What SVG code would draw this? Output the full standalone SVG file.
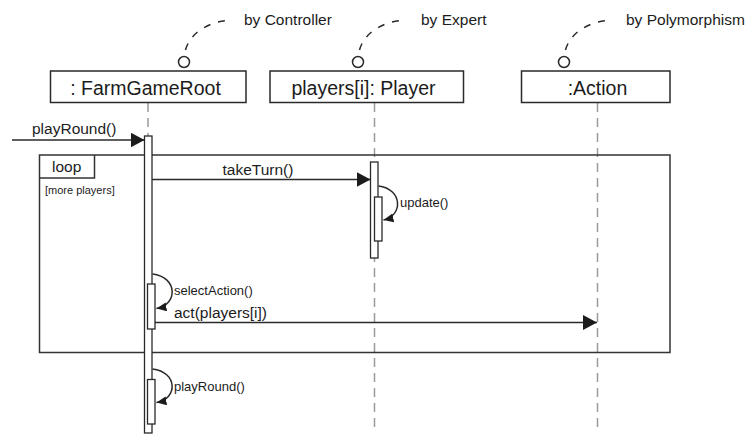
<svg xmlns="http://www.w3.org/2000/svg" width="750" height="438" viewBox="0 0 750 438">
  <style>
    text { font-family: "Liberation Sans", Arial, Helvetica, sans-serif; fill: #1c1c1c; }
    .box { fill: #fff; stroke: #2a2a2a; stroke-width: 1.5; }
    .lbl { font-size: 19.5px; text-anchor: middle; }
    .note { font-size: 15.5px; }
    .msg { font-size: 15.5px; }
    .small { font-size: 13px; }
    .tiny { font-size: 11px; }
    .life { stroke: #9a9a9a; stroke-width: 1.5; stroke-dasharray: 9 6; fill: none; }
    .act { fill: #fff; stroke: #2a2a2a; stroke-width: 1.3; }
    .pat { fill: none; stroke: #2a2a2a; stroke-width: 1.5; stroke-dasharray: 7 8; }
    .ball { fill: #fff; stroke: #2a2a2a; stroke-width: 1.5; }
    .call { fill: none; stroke: #2a2a2a; stroke-width: 1.5; marker-end: url(#big); }
    .self { fill: none; stroke: #2a2a2a; stroke-width: 1.5; marker-end: url(#small); }
    .frame { fill: none; stroke: #333; stroke-width: 1.5; }
  </style>
  <defs>
    <marker id="big" markerUnits="userSpaceOnUse" markerWidth="15" markerHeight="16" refX="14" refY="7.5" orient="auto">
      <path d="M0,0 L14,7.5 L0,15 z" fill="#1c1c1c"/>
    </marker>
    <marker id="small" markerUnits="userSpaceOnUse" markerWidth="11" markerHeight="10" refX="10" refY="4.5" orient="auto">
      <path d="M0,0 L10,4.5 L0,9 z" fill="#1c1c1c"/>
    </marker>
  </defs>

  <rect width="750" height="438" fill="#fff"/>

  <!-- lifelines -->
  <g id="lifelines">
    <line class="life" x1="148" y1="103" x2="148" y2="136"/>
    <line class="life" x1="374.5" y1="103" x2="374.5" y2="428"/>
    <line class="life" x1="597.5" y1="103" x2="597.5" y2="428"/>
  </g>

  <!-- combined fragment -->
  <g id="loop">
    <rect class="frame" x="39.5" y="155" width="630.5" height="197.5"/>
    <path class="frame" d="M39.5,178 H94.5 V155"/>
    <text x="52" y="172" class="msg">loop</text>
    <text x="45" y="194" class="tiny">[more players]</text>
  </g>

  <!-- participants -->
  <g id="farmGameRoot">
    <rect class="box" x="50.5" y="71" width="195.5" height="31.5"/>
    <text x="145.5" y="94.5" class="lbl">: FarmGameRoot</text>
    <path class="pat" d="M185.5,50 C189.5,35 205,22 231,20"/>
    <circle class="ball" cx="184" cy="62" r="5.5"/>
    <text x="244" y="25" class="note">by Controller</text>
    <rect class="act" x="144.5" y="136" width="7.5" height="297"/>
  </g>

  <g id="player">
    <rect class="box" x="270" y="71" width="193.5" height="31.5"/>
    <text x="363.5" y="94.5" class="lbl">players[i]: Player</text>
    <path class="pat" d="M359.5,50 C363.5,35 379,22 405,20"/>
    <circle class="ball" cx="358" cy="62" r="5.5"/>
    <text x="421" y="25" class="note">by Expert</text>
    <rect class="act" x="370.5" y="162" width="7.5" height="96"/>
    <rect class="act" x="374.5" y="197" width="7.5" height="44"/>
  </g>

  <g id="action">
    <rect class="box" x="521.5" y="71" width="148.5" height="31.5"/>
    <text x="597.5" y="94.5" class="lbl">:Action</text>
    <path class="pat" d="M565.5,50 C569.5,35 585,22 611,20"/>
    <circle class="ball" cx="564" cy="62" r="5.5"/>
    <text x="626" y="25" class="note">by Polymorphism</text>
  </g>

  <g id="farmGameRootInner">
    <rect class="act" x="147.5" y="284" width="7.5" height="45"/>
    <rect class="act" x="147.5" y="379.5" width="7.5" height="44.5"/>
  </g>

  <!-- messages -->
  <g id="connectors">
    <line class="call" x1="12" y1="140" x2="144.5" y2="140"/>
    <line class="call" x1="152" y1="179.5" x2="370.5" y2="179.5"/>
    <line class="call" x1="155" y1="322.5" x2="597" y2="322.5"/>
    <path class="self" d="M378.5,186 C403,189 403,216 383.5,220"/>
    <path class="self" d="M152.5,274 C178,277 178,305 156.5,308.5"/>
    <path class="self" d="M152.5,369 C178,372 178,399 156.5,402.5"/>
  </g>

  <g id="labels">
    <text x="32" y="134" class="msg">playRound()</text>
    <text x="222.5" y="175" class="msg">takeTurn()</text>
    <text x="400" y="207" class="small">update()</text>
    <text x="174" y="295" class="small">selectAction()</text>
    <text x="174" y="317.5" class="msg">act(players[i])</text>
    <text x="174" y="391" class="small">playRound()</text>
  </g>
</svg>
